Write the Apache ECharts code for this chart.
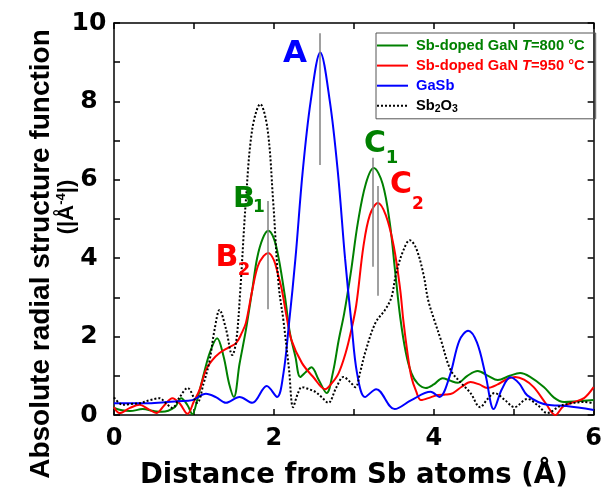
<!DOCTYPE html>
<html><head><meta charset="utf-8">
<script src="https://cdn.jsdelivr.net/npm/echarts@6/dist/echarts.min.js"></script>
<style>html,body{margin:0;padding:0;background:#fff}#c{width:605px;height:499px}</style>
</head><body><div id="c"></div>
<script>
const xTickLabels = [0, 2, 4, 6];
const yTickLabels = [0, 2, 4, 6, 8, 10];
const seriesNames = ['Sb-doped GaN T=800 °C', 'Sb-doped GaN T=950 °C', 'GaSb', 'Sb2O3'];
const seriesColors = ['#008000', '#ff0000', '#0000ff', '#000000'];

const gan800 = [[0,0.18],[0.1,0.12],[0.2,0.1],[0.36,0.15],[0.5,0.1],[0.6,0.08],[0.76,0.2],[0.84,0.43],[0.92,0.25],[0.98,0.02],[1.04,0.38],[1.11,0.94],[1.2,1.6],[1.29,1.96],[1.37,1.5],[1.44,0.8],[1.5,0.46],[1.57,1.3],[1.65,2.17],[1.73,3.2],[1.79,4.0],[1.86,4.5],[1.93,4.7],[2.0,4.5],[2.06,4.0],[2.14,3.0],[2.2,2.1],[2.27,1.48],[2.33,0.97],[2.4,1.1],[2.47,1.22],[2.56,0.9],[2.66,0.56],[2.74,1.1],[2.81,1.9],[2.88,2.6],[2.96,3.6],[3.05,4.9],[3.15,5.9],[3.25,6.3],[3.36,5.9],[3.45,4.9],[3.52,3.6],[3.58,2.5],[3.65,1.6],[3.72,1.07],[3.8,0.8],[3.9,0.69],[4.0,0.78],[4.11,0.94],[4.2,0.88],[4.3,0.82],[4.42,1.0],[4.55,1.12],[4.68,1.0],[4.8,0.89],[4.95,1.0],[5.08,1.07],[5.2,0.98],[5.38,0.71],[5.5,0.45],[5.63,0.33],[5.8,0.35],[6.0,0.38]];

const gan950 = [[0,0.2],[0.07,0.05],[0.2,0.18],[0.32,0.26],[0.43,0.15],[0.53,0.05],[0.63,0.25],[0.73,0.43],[0.82,0.3],[0.92,0.03],[1.0,0.35],[1.07,0.64],[1.15,1.15],[1.23,1.4],[1.32,1.58],[1.43,1.72],[1.53,1.84],[1.6,2.1],[1.65,2.35],[1.73,3.19],[1.8,3.8],[1.87,4.05],[1.93,4.13],[2.0,3.95],[2.05,3.6],[2.1,3.19],[2.16,2.5],[2.22,1.91],[2.35,1.33],[2.5,0.95],[2.64,0.66],[2.72,0.8],[2.81,1.07],[2.9,1.6],[2.96,2.09],[3.03,2.8],[3.12,4.3],[3.2,5.1],[3.3,5.41],[3.4,5.1],[3.5,4.3],[3.58,3.2],[3.62,2.4],[3.67,1.6],[3.72,0.97],[3.78,0.6],[3.84,0.38],[3.96,0.45],[4.05,0.51],[4.15,0.52],[4.24,0.56],[4.35,0.72],[4.46,0.84],[4.57,0.78],[4.67,0.69],[4.8,0.78],[4.9,0.9],[5.02,0.97],[5.13,0.9],[5.25,0.71],[5.4,0.3],[5.52,0.0],[5.62,0.22],[5.75,0.33],[5.88,0.43],[6.0,0.71]];

const gasb = [[0,0.3],[0.2,0.3],[0.4,0.3],[0.6,0.32],[0.8,0.35],[0.98,0.38],[1.15,0.54],[1.28,0.45],[1.4,0.31],[1.57,0.46],[1.73,0.31],[1.91,0.74],[2.04,0.46],[2.12,1.07],[2.19,2.35],[2.27,4.0],[2.36,6.2],[2.46,8.0],[2.58,9.25],[2.7,8.0],[2.8,6.2],[2.89,4.0],[2.97,2.35],[3.04,1.07],[3.14,0.46],[3.28,0.66],[3.51,0.15],[3.72,0.38],[3.96,0.59],[4.07,0.46],[4.2,1.0],[4.32,1.9],[4.43,2.15],[4.54,1.85],[4.65,1.0],[4.75,0.15],[4.85,0.65],[4.96,0.96],[5.07,0.8],[5.17,0.5],[5.42,0.26],[5.66,0.23],[6.0,0.13]];

const sb2o3 = [[0,0.45],[0.11,0.26],[0.2,0.28],[0.32,0.3],[0.45,0.38],[0.57,0.43],[0.65,0.3],[0.73,0.18],[0.82,0.45],[0.92,0.69],[1.04,0.31],[1.12,0.8],[1.19,1.33],[1.26,2.2],[1.32,2.68],[1.4,2.2],[1.48,1.53],[1.53,1.9],[1.58,3.19],[1.65,5.48],[1.73,7.3],[1.83,7.93],[1.92,7.3],[1.99,5.48],[2.06,3.3],[2.12,2.4],[2.19,1.15],[2.24,0.2],[2.3,0.55],[2.35,0.71],[2.45,0.65],[2.52,0.59],[2.6,0.45],[2.68,0.31],[2.78,0.7],[2.87,0.97],[2.95,0.85],[3.02,0.71],[3.08,1.1],[3.14,1.58],[3.27,2.35],[3.39,2.68],[3.47,3.0],[3.53,3.62],[3.62,4.2],[3.7,4.46],[3.78,4.25],[3.87,3.6],[3.93,2.93],[4.01,2.4],[4.09,1.91],[4.21,1.15],[4.34,0.82],[4.46,0.56],[4.58,0.2],[4.67,0.4],[4.76,0.56],[4.88,0.4],[5.01,0.2],[5.17,0.41],[5.3,0.25],[5.42,0.05],[5.58,0.23],[5.72,0.3],[5.88,0.33],[6.0,0.3]];

// reference (peak marker) lines: [x, yFrom, yTo]
const peakLines = [[2.58, 6.38, 9.74], [1.925, 2.70, 5.46], [3.24, 3.78, 6.56], [3.30, 3.04, 5.84]];

const FF = "'DejaVu Sans'";
const LF = "'Liberation Sans'";
const chart = echarts.init(document.getElementById('c'), null, {renderer: 'canvas'});

function axisCommon(extra) {
  return Object.assign({
    type: 'value',
    axisLine: {show: true, onZero: false, lineStyle: {color: '#000', width: 1.5}},
    axisTick: {show: true, inside: true, length: 6, lineStyle: {color: '#000', width: 1.5}},
    splitLine: {show: false}
  }, extra);
}

const dataSets = [gan800, gan950, gasb, sb2o3];
const series = dataSets.map((d, i) => ({
  name: seriesNames[i],
  type: 'line',
  data: d,
  smooth: 0.35,
  symbol: 'none',
  showSymbol: false,
  z: 2 + i,
  lineStyle: {color: seriesColors[i], width: 2, type: i === 3 ? 'dotted' : 'solid'},
  itemStyle: {color: seriesColors[i]}
}));
series[2].markLine = {
  silent: true, symbol: 'none', label: {show: false},
  lineStyle: {color: '#808080', width: 1.5, type: 'solid'},
  data: peakLines.map(p => [{coord: [p[0], p[1]]}, {coord: [p[0], p[2]]}])
};

const LS = 14.7;
const legendRich = {
  g: {color: '#008000', fontFamily: LF, fontWeight: 'bold', fontSize: LS, lineHeight: 18},
  gi: {color: '#008000', fontFamily: LF, fontWeight: 'bold', fontStyle: 'italic', fontSize: LS, lineHeight: 18},
  r: {color: '#ff0000', fontFamily: LF, fontWeight: 'bold', fontSize: LS, lineHeight: 18},
  ri: {color: '#ff0000', fontFamily: LF, fontWeight: 'bold', fontStyle: 'italic', fontSize: LS, lineHeight: 18},
  b: {color: '#0000ff', fontFamily: LF, fontWeight: 'bold', fontSize: LS, lineHeight: 18},
  k: {color: '#000', fontFamily: LF, fontWeight: 'bold', fontSize: LS, lineHeight: 18},
  ks: {color: '#000', fontFamily: LF, fontWeight: 'bold', fontSize: 10.5, lineHeight: 10, verticalAlign: 'bottom'}
};
const legendFmt = {
  'Sb-doped GaN T=800 °C': '{g|Sb-doped GaN }{gi|T}{g|=800 °C}',
  'Sb-doped GaN T=950 °C': '{r|Sb-doped GaN }{ri|T}{r|=950 °C}',
  'GaSb': '{b|GaSb}',
  'Sb2O3': '{k|Sb}{ks|2}{k|O}{ks|3}'
};

function label(text, x, y, size, color) {
  return {type: 'text', x: x, y: y, z: 100,
    style: {text: text, font: 'bold ' + size + 'px ' + FF, fill: color,
      align: 'center', verticalAlign: 'middle', textAlign: 'center', textVerticalAlign: 'middle'}};
}

const option = {
  animation: false,
  backgroundColor: '#fff',
  grid: {left: 114, right: 8, top: 23, bottom: 84, containLabel: false},
  xAxis: [
    axisCommon({min: 0, max: 6, interval: 1, position: 'bottom',
      axisLabel: {formatter: v => xTickLabels.includes(v) ? String(v) : '', color: '#000',
        fontFamily: FF, fontWeight: 'bold', fontSize: 24, margin: 12},
      name: 'Distance from Sb atoms (Å)', nameLocation: 'middle', nameGap: 47,
      nameTextStyle: {color: '#000', fontFamily: FF, fontWeight: 'bold', fontSize: 27.5}}),
    axisCommon({min: 0, max: 6, interval: 1, position: 'top', axisLabel: {show: false}})
  ],
  yAxis: [
    axisCommon({min: 0, max: 10, interval: 1, position: 'left',
      axisLabel: {formatter: v => yTickLabels.includes(v) ? String(v) : '', color: '#000',
        fontFamily: FF, fontWeight: 'bold', fontSize: 25, margin: 25, align: 'center'}}),
    axisCommon({min: 0, max: 10, interval: 1, position: 'right', axisLabel: {show: false}})
  ],
  legend: {
    orient: 'vertical', left: 376, top: 33,
    padding: [5, 11, 4, 0], itemGap: 5.1, itemWidth: 31, itemHeight: 14,
    icon: 'inherit',
    itemStyle: {opacity: 0, borderWidth: 0},
    borderColor: '#555', borderWidth: 1, backgroundColor: 'rgba(255,255,255,0)',
    data: seriesNames,
    formatter: n => legendFmt[n],
    textStyle: {rich: legendRich, padding: [0, 0, 0, 3]}
  },
  graphic: [
    label('A', 295, 53.5, 31, '#0000ff'),
    label('B', 244, 199.5, 29, '#008000'),
    label('1', 259, 207.7, 17, '#008000'),
    label('B', 227, 258, 30, '#ff0000'),
    label('2', 244, 270, 18, '#ff0000'),
    label('C', 375, 144.5, 30, '#008000'),
    label('1', 392, 158.7, 18, '#008000'),
    label('C', 401, 185.5, 30, '#ff0000'),
    label('2', 418, 204.7, 17, '#ff0000'),
    {type: 'text', x: 41.3, y: 254, rotation: Math.PI / 2, z: 100,
      style: {text: 'Absolute radial structure function', font: "bold 28px 'Liberation Sans'", fill: '#000',
        align: 'center', verticalAlign: 'middle', textAlign: 'center', textVerticalAlign: 'middle'}},
    {type: 'text', x: 67, y: 207, rotation: Math.PI / 2, z: 100,
      style: {text: '{m|(|Å}{s|-4}{m||)}', fill: '#000',
        align: 'center', verticalAlign: 'middle', textAlign: 'center', textVerticalAlign: 'middle',
        rich: {m: {fontFamily: 'Liberation Sans', fontWeight: 'bold', fontSize: 22, lineHeight: 24},
               s: {fontFamily: 'Liberation Sans', fontWeight: 'bold', fontSize: 13, lineHeight: 13, verticalAlign: 'top'}}}}
  ],
  series: series
};
chart.setOption(option);
</script></body></html>
